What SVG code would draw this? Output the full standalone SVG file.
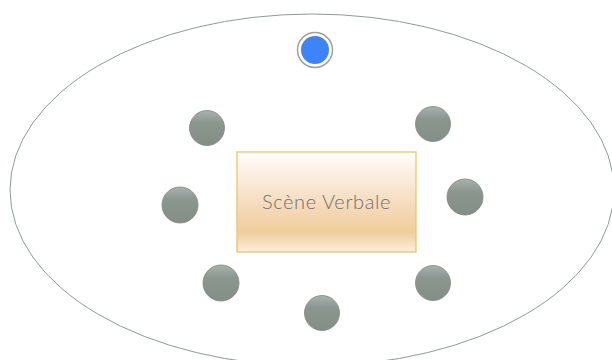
<svg xmlns="http://www.w3.org/2000/svg" width="612" height="360" viewBox="0 0 612 360">
<style>
.seat{fill:url(#gseat);stroke:#7d8880;stroke-width:0.8}
.lbl{font-family:Lato,"Noto Sans",sans-serif;font-size:20px;font-weight:300;letter-spacing:0.6px;fill:#756c6c}
</style>
<defs>
<linearGradient id="gseat" x1="0" y1="0" x2="0" y2="1">
<stop offset="0" stop-color="#a9b3ad"/>
<stop offset="0.35" stop-color="#8b968f"/>
<stop offset="1" stop-color="#838e87"/>
</linearGradient>
<linearGradient id="grect" x1="0" y1="0" x2="0" y2="1">
<stop offset="0" stop-color="#fffdfb"/>
<stop offset="0.45" stop-color="#f6e0c6"/>
<stop offset="0.8" stop-color="#f0cd9c"/>
<stop offset="1" stop-color="#faeee0"/>
</linearGradient>
</defs>
<g id="room">
<ellipse cx="312" cy="190" rx="302" ry="176" fill="none" stroke="#8e9a96" stroke-width="1"/>
</g>
<g id="speaker">
<circle cx="315" cy="50" r="17.5" fill="#ffffff" stroke="#a0a0a0" stroke-width="1.5"/>
<circle cx="315" cy="50" r="14" fill="#3f83f8"/>
</g>
<g id="scene">
<rect x="237" y="152" width="179" height="100" fill="url(#grect)" stroke="#efc36a" stroke-width="1.3"/>
<text class="lbl" x="326.5" y="209" text-anchor="middle">Scène Verbale</text>
</g>
<g id="seats">
<circle id="s1" class="seat" cx="207" cy="128" r="17.5"/>
<circle id="s2" class="seat" cx="433" cy="124" r="17.5"/>
<circle id="s3" class="seat" cx="180" cy="205" r="18"/>
<circle id="s4" class="seat" cx="465" cy="197" r="18"/>
<circle id="s5" class="seat" cx="221" cy="283" r="18"/>
<circle id="s6" class="seat" cx="433" cy="283" r="17.5"/>
<circle id="s7" class="seat" cx="322" cy="313" r="17.5"/>
</g>
<g id="connectors"/>
</svg>
